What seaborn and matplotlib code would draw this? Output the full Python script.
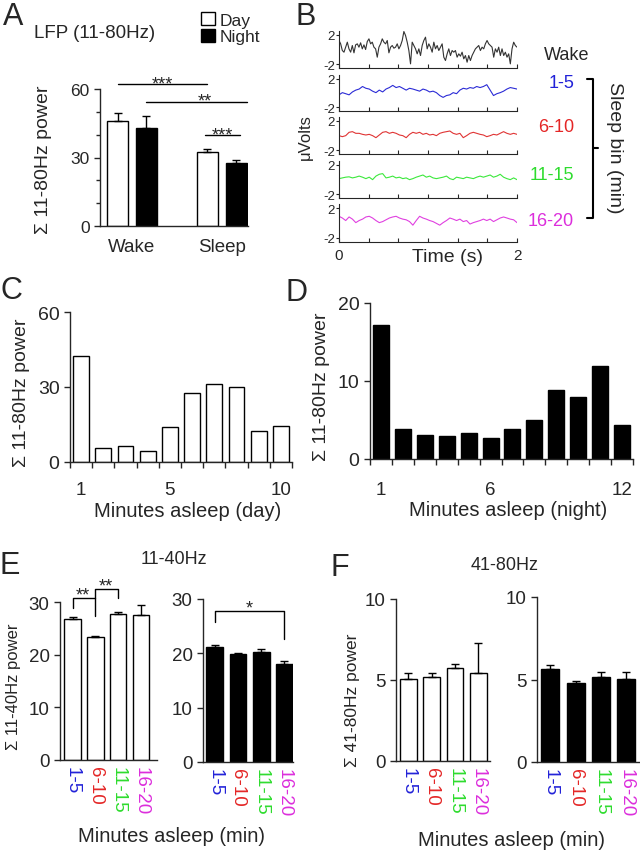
import numpy as np
import pandas as pd
import seaborn as sns
import matplotlib.pyplot as plt
from matplotlib.lines import Line2D
from matplotlib.patches import Patch

# ---- data ----
# A: summed LFP power 11-80Hz
states = ['Wake', 'Sleep']
a_day = [46.0, 32.5]
a_day_err = [3.6, 1.4]
a_night = [42.8, 27.8]
a_night_err = [5.4, 0.9]

# B: example LFP traces (uV), 0-2 s
trace_wake = [1.24, 0.78, -0.14, -0.37, 0.32, 1.01, 0.09, -0.37, 0.55, -0.46, 0.64, 0.78,
              0.32, 0.92, 0.09, 0.64, 0.0, 1.10, 1.47, 0.78, 1.01, 0.32, 0.09, -1.06, 0.32,
              0.78, 1.47, 1.01, 0.78, 1.24, -0.46, 0.32, 0.55, 0.18, 0.32, 0.78, 0.09, 0.55,
              1.24, 2.48, 1.93, 1.01, -0.14, -1.98, 1.01, 0.55, 0.09, -0.6, 0.09, -0.83, 0.55,
              1.24, 1.70, 0.09, 0.78, 0.32, -0.37, 1.01, 0.09, 0.55, -0.14, 0.32, 0.78, -1.06,
              -1.52, -0.6, 0.09, -0.83, -0.14, -0.37, -0.14, -1.06, -0.6, -0.92, -0.37, -1.29,
              -0.83, -1.75, -0.83, -1.52, -0.83, -0.37, 0.09, 0.32, 0.55, -0.14, 0.32, 0.09,
              0.78, 1.24, 0.78, 0.55, 0.32, -1.06, 0.09, -0.37, 0.32, -0.83, 0.09, -0.83, -0.37,
              -1.06, -0.6, -1.98, 0.09, 1.01, 0.55, 0.32]
trace_1_5 = [-0.26, 0.05, -0.1, -0.26, 0.15, 0.41, 0.56, 0.92, 0.67, 0.56, 0.26, 0.05, 0.41,
             0.15, 0.56, 0.77, 1.08, 0.77, 0.92, 0.67, 0.41, 0.67, 0.56, 0.41, 0.26, 0.56, 0.41,
             0.15, 0.26, 0.05, -0.36, -0.62, -0.36, -0.26, 0.05, -0.1, 0.41, 0.67, 0.56, 0.77,
             0.67, 0.92, 0.77, 0.92, 1.18, 0.41, -0.36, -0.1, 0.05, 0.26, 0.56, 0.77, 0.67, 0.56]
trace_6_10 = [-0.02, -0.16, -0.02, 0.44, 0.53, 0.3, 0.3, 0.16, 0.07, 0.16, -0.02, -0.3, 0.07,
              0.44, 0.53, 0.3, 0.44, 0.3, 0.07, -0.02, -0.3, 0.16, 0.44, 0.3, 0.44, 0.16, 0.3,
              0.07, 0.16, -0.02, 0.3, 0.44, 0.53, 0.62, 0.3, 0.16, 0.3, -0.3, -0.02, 0.3, 0.44,
              0.3, 0.16, 0.07, -0.16, -0.02, 0.16, 0.07, 0.3, 0.53, 0.3, 0.16, 0.3, 0.16]
trace_11_15 = [0.12, 0.22, 0.32, 0.37, 0.22, 0.32, 0.47, 0.32, 0.12, 0.32, -0.02, 0.47, 0.72,
               0.81, 0.22, 0.32, 0.47, 0.22, 0.32, 0.12, 0.22, -0.02, 0.12, 0.32, 0.47, 0.62,
               0.32, 0.47, 0.22, 0.12, 0.22, 0.32, 0.47, 0.12, -0.02, 0.32, 0.22, 0.12, 0.32,
               0.22, 0.12, 0.32, 0.47, 0.32, 0.47, 0.62, 0.32, 0.47, 0.72, 0.32, 0.12, -0.02,
               0.22, -0.02]
trace_16_20 = [0.9, 0.67, 0.33, 0.81, 0.52, 0.05, 0.33, 0.52, 0.81, 0.9, 0.67, 0.33, 0.05,
               0.19, 0.43, 0.67, 0.81, 0.9, 0.67, 0.52, 0.43, 0.19, -0.29, 0.33, 0.9, 0.67,
               0.52, 0.33, 0.19, -0.05, -0.29, 0.05, 0.33, 0.67, 0.52, 0.33, 0.52, 0.19, 0.33,
               -0.14, 0.05, 0.19, 0.33, 0.52, 0.33, 0.52, 0.19, 0.43, 0.67, 0.81, 0.67, 0.52,
               0.43, 0.05]
trace_colors = ['#333333', '#2b2bd6', '#e03434', '#3ce83c', '#e040e0']

bin_labels = ['1-5', '6-10', '11-15', '16-20']
bin_colors = ['#2222d8', '#e42626', '#2edc2e', '#dc2edc']

# C / D: power per minute of sleep
c_minutes = [str(m) for m in range(1, 11)]
c_power = [42.5, 5.6, 6.4, 4.6, 14.1, 27.6, 31.2, 30.1, 12.5, 14.5]
d_minutes = [str(m) for m in range(1, 13)]
d_power = [17.2, 3.8, 3.1, 2.9, 3.3, 2.7, 3.9, 5.0, 8.8, 7.9, 11.9, 4.3]

# E: 11-40Hz, F: 41-80Hz per sleep bin
e_day = [26.7, 23.4, 27.7, 27.5]
e_day_err = [0.5, 0.2, 0.35, 2.0]
e_night = [21.1, 19.8, 20.3, 17.95]
e_night_err = [0.5, 0.35, 0.5, 0.55]
f_day = [5.05, 5.2, 5.75, 5.42]
f_day_err = [0.41, 0.22, 0.23, 1.86]
f_night = [5.62, 4.79, 5.15, 5.01]
f_night_err = [0.24, 0.1, 0.3, 0.44]

# ---- style ----
sns.set_style('ticks')
plt.rcParams['font.family'] = ['Liberation Sans', 'DejaVu Sans']
plt.rcParams['axes.linewidth'] = 1.0

W, H = 640, 853
fig = plt.figure(figsize=(6.4, 8.53), dpi=100)


def box(x0, y0, x1, y1):
    return fig.add_axes([x0 / W, 1 - y1 / H, (x1 - x0) / W, (y1 - y0) / H])


def ftext(x, y, s, **kw):
    kw.setdefault('ha', 'center')
    kw.setdefault('va', 'center')
    fig.text(x / W, 1 - y / H, s, **kw)


def fline(xs, ys, lw=1.5):
    fig.add_artist(Line2D([x / W for x in xs], [1 - y / H for y in ys],
                          transform=fig.transFigure, color='black', lw=lw))


def stars(ax, x, y, s):
    ax.annotate(s, xy=(x, y), xytext=(0, -3), textcoords='offset points',
                ha='center', va='baseline', fontsize=13, annotation_clip=False)


def sig(ax, xs, ys):
    ax.plot(xs, ys, color='black', lw=1, clip_on=False)


# ---- A ----
axA = box(100, 90, 248, 227)
dfA = pd.DataFrame({'state': states * 2, 'time': ['Day'] * 2 + ['Night'] * 2,
                    'power': a_day + a_night})
sns.barplot(data=dfA, x='state', y='power', hue='time',
            palette={'Day': 'white', 'Night': 'black'}, edgecolor='black', linewidth=1,
            width=0.644, gap=0.28, errorbar=None, ax=axA)
centers = []
for cont, err in zip(axA.containers, [a_day_err, a_night_err]):
    xs = [b.get_x() + b.get_width() / 2 for b in cont]
    hs = [b.get_height() for b in cont]
    centers.append(xs)
    axA.errorbar(xs, hs, yerr=[np.zeros(len(err)), err], fmt='none', ecolor='black',
                 elinewidth=1, capsize=3, capthick=1)
axA.get_legend().remove()
axA.legend([Patch(facecolor='white', edgecolor='black'), Patch(facecolor='black', edgecolor='black')],
           ['Day', 'Night'], loc='upper left', bbox_to_anchor=(201 / W, 1 - 13 / H),
           bbox_transform=fig.transFigure, frameon=False, fontsize=12.5, handlelength=0.8,
           handleheight=0.8, handletextpad=0.3, labelspacing=0.05, borderpad=0, borderaxespad=0)
axA.set_xlim(-0.356, 1.29)
axA.set_ylim(0, 60)
axA.set_yticks([0, 30, 60])
axA.set_yticks([10, 20, 40, 50], minor=True)
axA.set_xlabel('')
axA.set_ylabel('')
axA.tick_params(axis='x', length=0, labelsize=13.5, pad=9)
axA.tick_params(axis='y', which='both', labelsize=12.5, length=4, width=1)
axA.tick_params(axis='y', which='minor', length=3)
sns.despine(ax=axA)
day_c, night_c = centers
sig(axA, [day_c[0], day_c[1]], [62.2, 62.2])
stars(axA, (day_c[0] + day_c[1]) / 2, 62.2, '***')
sig(axA, [night_c[0], night_c[1] + 0.12], [54.5, 54.5])
stars(axA, (night_c[0] + night_c[1]) / 2 + 0.15, 54.5, '**')
sig(axA, [day_c[1] - 0.03, night_c[1] + 0.04], [39.8, 39.8])
stars(axA, (day_c[1] + night_c[1]) / 2, 39.8, '***')
ftext(95, 33, 'LFP (11-80Hz)', fontsize=13.5)
ftext(44, 160, 'Σ 11-80Hz power', fontsize=14, rotation=90)
ftext(13, 17, 'A', fontsize=22)

# ---- B ----
rows = [(32, 69), (76, 112), (118, 155), (162, 199), (205, 243)]
traces = [trace_wake, trace_1_5, trace_6_10, trace_11_15, trace_16_20]
for i, ((y0, y1), tr, col) in enumerate(zip(rows, traces, trace_colors)):
    ax = box(339, y0, 517, y1)
    sns.lineplot(x=np.linspace(0, 2, len(tr)), y=tr, color=col, lw=0.8, ax=ax)
    ax.set_xlim(0, 2)
    ax.set_ylim(-2.55, 2.55)
    ax.set_yticks([-2, 2])
    ax.set_yticklabels(['-2', '2'])
    ax.set_xticks(np.linspace(0, 2, 7))
    ax.set_xticklabels(['0', '', '', '', '', '', '2'] if i == 4 else [''] * 7)
    ax.tick_params(axis='x', direction='in', length=3, width=0.8, labelsize=11, pad=4)
    ax.tick_params(axis='y', length=2, width=0.8, labelsize=9.5, pad=1)
    for s in ax.spines.values():
        s.set_linewidth(0.8)
    sns.despine(ax=ax)
ftext(448, 257, 'Time (s)', fontsize=14)
ftext(305, 137, 'μVolts', fontsize=12, rotation=90)
ftext(567, 55, 'Wake', fontsize=13)
for lab, col, y in zip(bin_labels, bin_colors, [84, 128, 175, 221]):
    ftext(574, y, lab, fontsize=13, color=col, ha='right')
fline([587, 593, 593, 587], [80, 80, 219, 219])
fline([593, 598], [149, 149])
ftext(614, 148, 'Sleep bin (min)', fontsize=14, rotation=-90)
ftext(306, 17, 'B', fontsize=22)

# ---- C ----
axC = box(70, 313, 292, 463)
sns.barplot(x=c_minutes, y=c_power, color='white', edgecolor='black', linewidth=1,
            width=0.72, ax=axC)
axC.set_xlim(-0.5, 9.5)
axC.set_ylim(0, 60)
axC.set_yticks([0, 30, 60])
axC.set_xticks(np.arange(-0.5, 10, 1), labels=[''] * 11)
axC.set_xticks([0, 4, 9], labels=['1', '5', '10'], minor=True)
axC.tick_params(axis='x', which='major', length=4, width=1)
axC.tick_params(axis='x', which='minor', length=0, labelsize=13.5, pad=14)
axC.tick_params(axis='y', length=4, width=1, labelsize=14)
sns.despine(ax=axC)
ftext(188, 512, 'Minutes asleep (day)', fontsize=14.5)
ftext(22, 393, 'Σ 11-80Hz power', fontsize=14, rotation=90)
ftext(11, 291, 'C', fontsize=22)

# ---- D ----
axD = box(370, 304, 633, 460)
sns.barplot(x=d_minutes, y=d_power, color='black', edgecolor='black', linewidth=1,
            width=0.73, ax=axD)
axD.set_xlim(-0.5, 11.5)
axD.set_ylim(0, 20)
axD.set_yticks([0, 10, 20])
axD.set_xticks(np.arange(-0.5, 12, 1), labels=[''] * 13)
axD.set_xticks([0, 5, 11], labels=['1', '6', '12'], minor=True)
axD.tick_params(axis='x', which='major', length=4, width=1)
axD.tick_params(axis='x', which='minor', length=0, labelsize=13.5, pad=16)
axD.tick_params(axis='y', length=4, width=1, labelsize=14)
sns.despine(ax=axD)
ftext(508, 511, 'Minutes asleep (night)', fontsize=14.5)
ftext(322, 387, 'Σ 11-80Hz power', fontsize=14, rotation=90)
ftext(297, 293, 'D', fontsize=22)


# ---- E / F ----
def bin_panel(rect, vals, errs, face, xlim, ymax, yticks):
    ax = box(*rect)
    sns.barplot(x=bin_labels, y=vals, color=face, edgecolor='black', linewidth=1,
                width=0.72, ax=ax)
    ax.errorbar(range(len(vals)), vals, yerr=[np.zeros(len(errs)), errs], fmt='none',
                ecolor='black', elinewidth=1, capsize=3, capthick=1)
    ax.set_xlim(*xlim)
    ax.set_ylim(0, ymax)
    ax.set_yticks(yticks)
    ax.set_xticks(range(len(bin_labels)))
    ax.set_xticklabels(bin_labels, rotation=-90, fontsize=13.5)
    for lab, col in zip(ax.get_xticklabels(), bin_colors):
        lab.set_color(col)
    ax.tick_params(axis='x', length=0, pad=4)
    ax.tick_params(axis='y', length=4, width=1, labelsize=13.5)
    sns.despine(ax=ax)
    return ax


axE1 = bin_panel((60, 603, 157, 761), e_day, e_day_err, 'white', (-0.55, 3.7), 30, [0, 10, 20, 30])
axE2 = bin_panel((203, 600, 293, 763), e_night, e_night_err, 'black', (-0.5, 3.37), 30, [0, 10, 20, 30])
axF1 = bin_panel((396, 600, 490, 762), f_day, f_day_err, 'white', (-0.52, 3.5), 10, [0, 5, 10])
axF2 = bin_panel((537, 598, 640, 763), f_night, f_night_err, 'black', (-0.53, 3.55), 10, [0, 5, 10])

sig(axE1, [0, 0, 1], [28.9, 30.8, 30.8])
sig(axE1, [1, 1, 2, 2], [27.3, 32.5, 32.5, 30.8])
stars(axE1, 0.45, 31.3, '**')
stars(axE1, 1.45, 33.0, '**')
sig(axE2, [0, 0, 3, 3], [25.7, 27.7, 27.7, 22.6])
stars(axE2, 1.5, 28.3, '*')

ftext(174, 560, '11-40Hz', fontsize=13)
ftext(505, 566, '41-80Hz', fontsize=13)
ftext(14, 687, 'Σ 11-40Hz power', fontsize=12, rotation=90)
ftext(353, 700, 'Σ 41-80Hz power', fontsize=12.5, rotation=90)
ftext(172, 837, 'Minutes asleep (min)', fontsize=14.5)
ftext(512, 841, 'Minutes asleep (min)', fontsize=14.5)
ftext(10, 566, 'E', fontsize=22)
ftext(340, 568, 'F', fontsize=22)

fig.savefig('out.png', dpi=100)
